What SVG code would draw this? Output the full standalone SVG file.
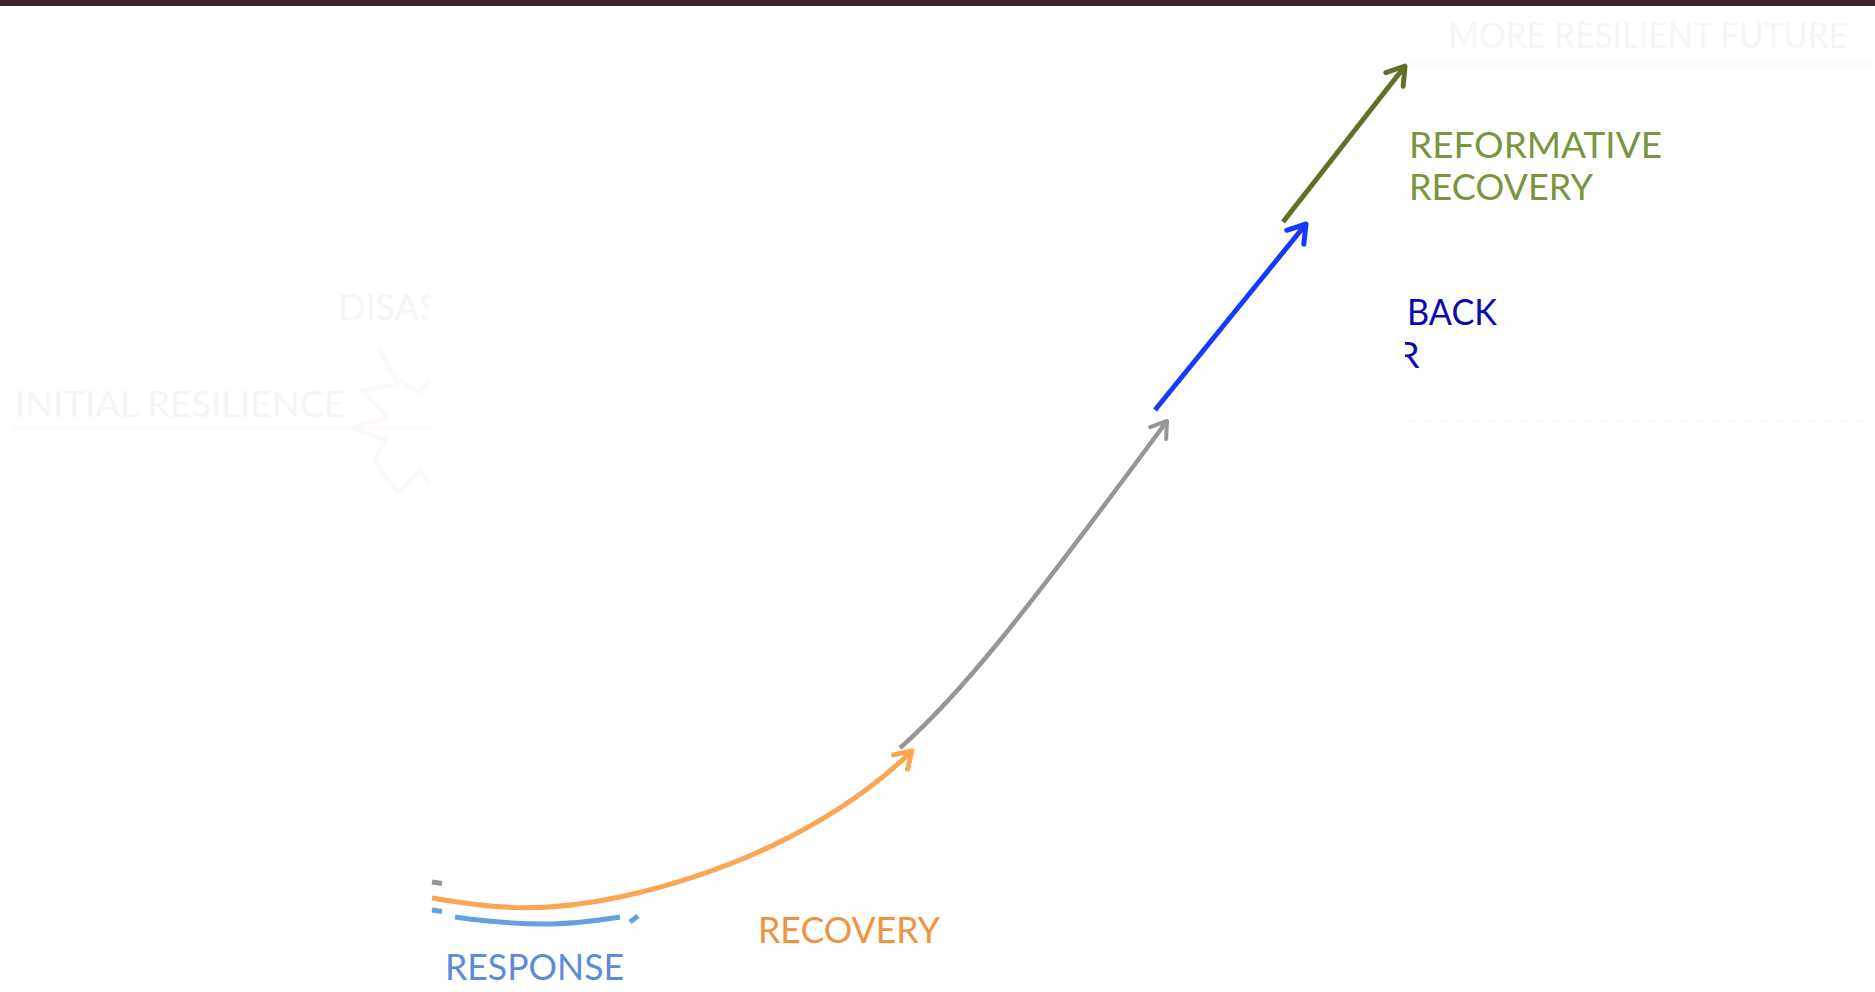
<svg xmlns="http://www.w3.org/2000/svg" width="1875" height="992" viewBox="0 0 1875 992">
<style>
.lbl{font-family:Lato,"Open Sans","Liberation Sans",sans-serif;font-size:36px;}
.faint{fill:#F5F5F5;}
.conn{fill:none;stroke-linecap:butt;}
</style>
<defs>
<clipPath id="clipLeft"><rect x="0" y="0" width="429" height="992"/></clipPath>
<clipPath id="clipRight"><rect x="1405" y="0" width="470" height="992"/></clipPath>
<marker id="mGreen" markerUnits="userSpaceOnUse" markerWidth="40" markerHeight="40" refX="0" refY="0" viewBox="-24 -20 30 40" orient="auto" overflow="visible"><path d="M-17,-11 L0,0 L-17,11" fill="none" stroke="#5E7129" stroke-width="5" stroke-linecap="round" stroke-linejoin="round"/></marker>
<marker id="mBlue" markerUnits="userSpaceOnUse" markerWidth="40" markerHeight="40" refX="0" refY="0" viewBox="-24 -20 30 40" orient="auto" overflow="visible"><path d="M-17,-11 L0,0 L-17,11" fill="none" stroke="#1539FF" stroke-width="5" stroke-linecap="round" stroke-linejoin="round"/></marker>
<marker id="mGray" markerUnits="userSpaceOnUse" markerWidth="40" markerHeight="40" refX="0" refY="0" viewBox="-24 -20 30 40" orient="auto" overflow="visible"><path d="M-15,-10 L0,0 L-15,10" fill="none" stroke="#969696" stroke-width="4" stroke-linecap="round" stroke-linejoin="round"/></marker>
<marker id="mOrange" markerUnits="userSpaceOnUse" markerWidth="40" markerHeight="40" refX="0" refY="0" viewBox="-24 -20 30 40" orient="auto" overflow="visible"><path d="M-16,-10 L0,0 L-16,10" fill="none" stroke="#FAA653" stroke-width="5" stroke-linecap="round" stroke-linejoin="round"/></marker>
</defs>
<rect x="0" y="0" width="1875" height="992" fill="#FFFFFF"/>
<rect id="topbar" x="0" y="0" width="1875" height="6" fill="#3C2226"/>

<g id="initial-resilience" clip-path="url(#clipLeft)">
<line x1="12" y1="428" x2="430" y2="428" stroke="#FEF9FA" stroke-width="3"/>
<text class="lbl faint" x="15" y="417" font-size="40" textLength="330" lengthAdjust="spacingAndGlyphs">INITIAL RESILIENCE</text>
</g>
<g id="disaster" clip-path="url(#clipLeft)">
<text class="lbl faint" x="338" y="320">DISAS</text>
<polyline points="378,348 396,378 418,392 440,372 M0,0" fill="none" stroke="#FDF7F8" stroke-width="4"/>
<polyline points="378,348 398,385 362,390 388,418 352,428 386,440 374,460 398,493 420,470 440,500" fill="none" stroke="#FDF7F8" stroke-width="4" stroke-linejoin="miter"/>
</g>

<g id="more-resilient-future">
<text class="lbl faint" x="1448" y="48" font-size="33" textLength="400" lengthAdjust="spacingAndGlyphs">MORE RESILIENT FUTURE</text>
<line x1="1407" y1="64" x2="1873" y2="64" stroke="#FEFAFB" stroke-width="3"/>
</g>

<g id="reformative-recovery">
<text class="lbl" fill="#7A953D" x="1409" y="158" textLength="253" lengthAdjust="spacingAndGlyphs">REFORMATIVE</text>
<text class="lbl" fill="#7A953D" x="1409" y="200" textLength="184" lengthAdjust="spacingAndGlyphs">RECOVERY</text>
</g>

<g id="build-back-better" clip-path="url(#clipRight)">
<text class="lbl" fill="#0A0AB0" x="1407" y="325" textLength="90" lengthAdjust="spacingAndGlyphs">BACK</text>
<text class="lbl" fill="#0A0AB0" x="1397" y="368">R</text>
<line x1="1407" y1="421" x2="1870" y2="421" stroke="#FEF9FA" stroke-width="3" stroke-dasharray="10 6"/>
</g>

<g id="recovery">
<text class="lbl" fill="#F0933F" x="758" y="943" textLength="182" lengthAdjust="spacingAndGlyphs">RECOVERY</text>
</g>

<g id="response">
<text class="lbl" fill="#5B8BD9" x="445" y="980" textLength="179" lengthAdjust="spacingAndGlyphs">RESPONSE</text>
</g>

<g id="connectors">
<line class="conn" x1="432" y1="882" x2="442" y2="883.5" stroke="#969696" stroke-width="5"/>
<line class="conn" x1="432" y1="910" x2="442" y2="911.5" stroke="#659FDD" stroke-width="5"/>
<path class="conn" d="M455,917 C 490,922 520,924 545,924 C 575,924 600,920 620,917" stroke="#659FDD" stroke-width="5"/>
<line class="conn" x1="630" y1="922" x2="638" y2="916" stroke="#659FDD" stroke-width="5"/>
<path class="conn" d="M432,898 C 490,908 540,914 620,897 C 720,875 830,830 912,751" stroke="#FAA653" stroke-width="5" marker-end="url(#mOrange)"/>
<path class="conn" d="M900,748 C 960,695 1020,620 1167,421" stroke="#969696" stroke-width="4.5" marker-end="url(#mGray)"/>
<line class="conn" x1="1155" y1="410" x2="1306" y2="224" stroke="#1539FF" stroke-width="5" marker-end="url(#mBlue)"/>
<line class="conn" x1="1283" y1="222" x2="1405" y2="66" stroke="#5E7129" stroke-width="5" marker-end="url(#mGreen)"/>
</g>
</svg>
